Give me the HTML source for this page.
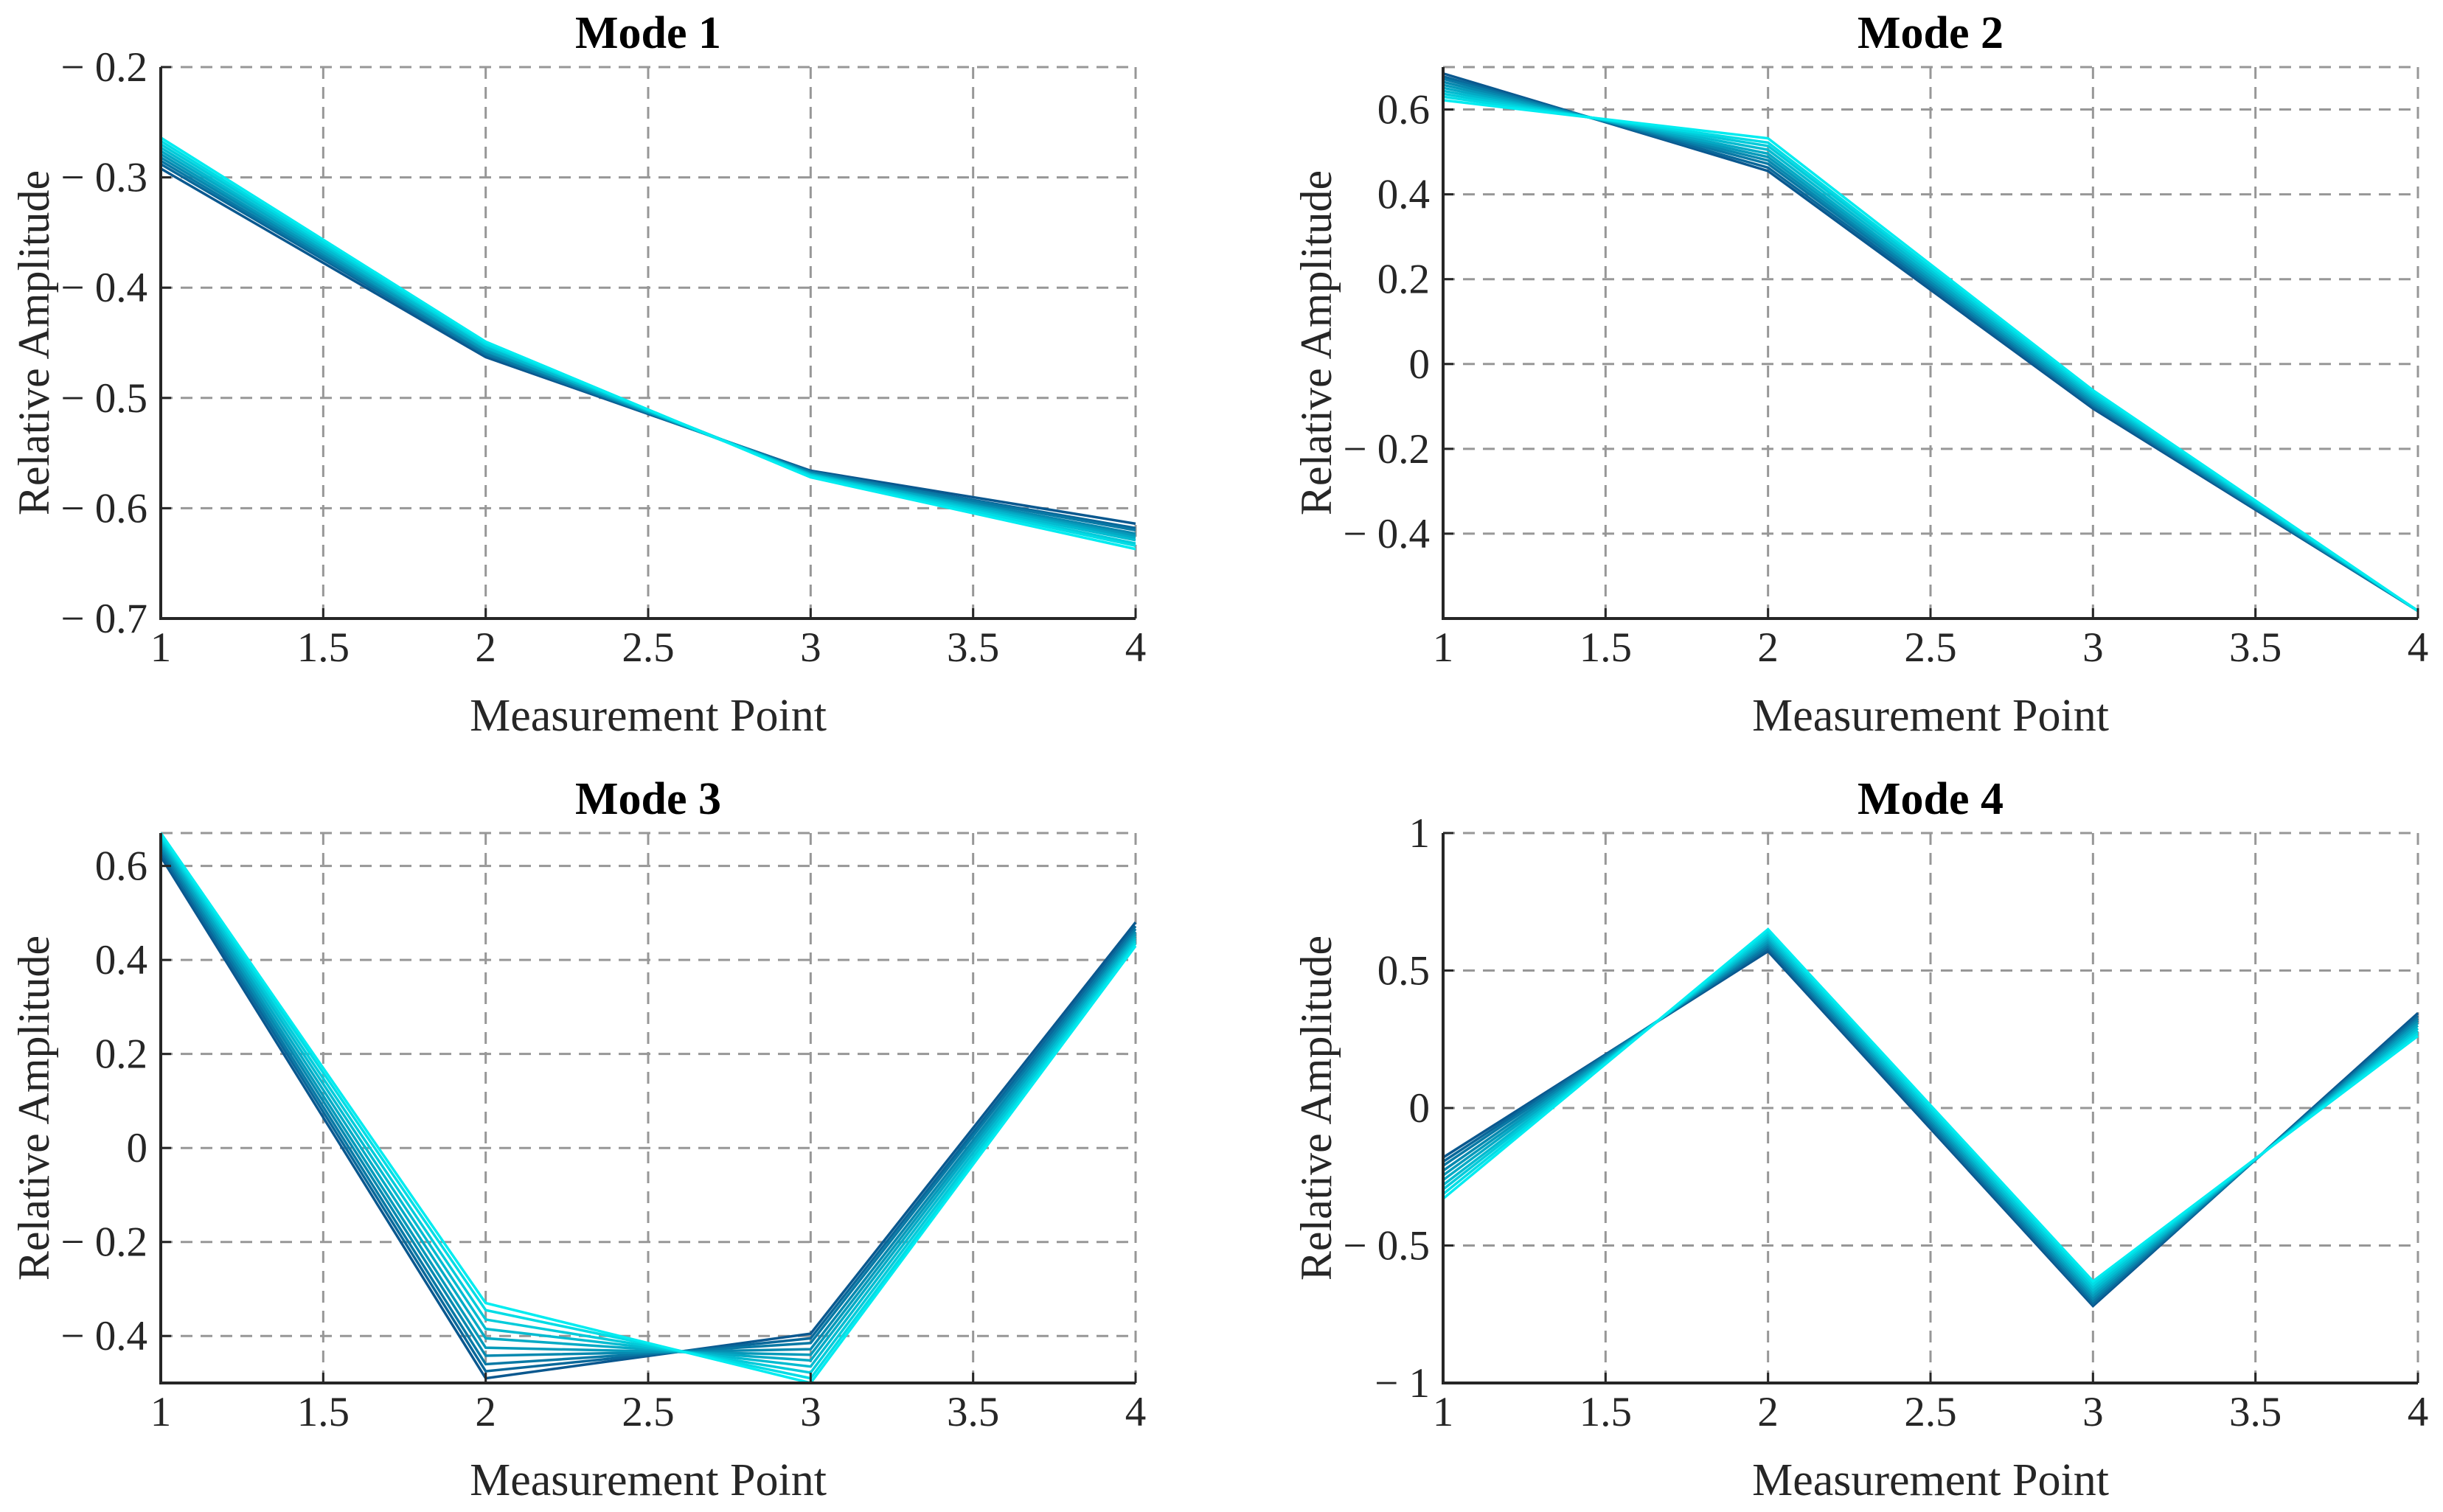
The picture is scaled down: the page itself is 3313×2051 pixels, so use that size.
<!DOCTYPE html>
<html><head><meta charset="utf-8"><style>
html,body{margin:0;padding:0;background:#fff;}
svg{display:block;font-family:"Liberation Serif",serif;}
</style></head><body>
<svg id="fig" width="3313" height="2051" viewBox="0 0 3313 2051" xmlns="http://www.w3.org/2000/svg"></svg>
<script>
const categories = [1, 2, 3, 4];
const xTicks = [1, 1.5, 2, 2.5, 3, 3.5, 4];
const xTickLabels = ["1","1.5","2","2.5","3","3.5","4"];
const titles = ["Mode 1","Mode 2","Mode 3","Mode 4"];
const yDomains = [[-0.7,-0.2],[-0.6,0.7],[-0.5,0.67],[-1,1]];
const yTicks1 = [-0.7,-0.6,-0.5,-0.4,-0.3,-0.2];
const yTicks2 = [-0.4,-0.2,0,0.2,0.4,0.6];
const yTicks3 = [-0.4,-0.2,0,0.2,0.4,0.6];
const yTicks4 = [-1,-0.5,0,0.5,1];
const yTickLabels1 = ["− 0.7","− 0.6","− 0.5","− 0.4","− 0.3","− 0.2"];
const yTickLabels2 = ["− 0.4","− 0.2","0","0.2","0.4","0.6"];
const yTickLabels3 = ["− 0.4","− 0.2","0","0.2","0.4","0.6"];
const yTickLabels4 = ["− 1","− 0.5","0","0.5","1"];
// series: dark (first) -> cyan (last)
const mode1Series = [
 [-0.292,-0.463,-0.566,-0.614],
 [-0.288,-0.461,-0.567,-0.618],
 [-0.285,-0.460,-0.567,-0.620],
 [-0.282,-0.458,-0.568,-0.623],
 [-0.279,-0.457,-0.569,-0.625],
 [-0.276,-0.455,-0.569,-0.627],
 [-0.273,-0.454,-0.570,-0.629],
 [-0.270,-0.452,-0.570,-0.632],
 [-0.267,-0.451,-0.571,-0.634],
 [-0.264,-0.449,-0.572,-0.637]];
const mode2Series = [
 [0.685,0.455,-0.105,-0.582],
 [0.678,0.463,-0.100,-0.582],
 [0.672,0.472,-0.096,-0.582],
 [0.665,0.480,-0.092,-0.582],
 [0.658,0.488,-0.087,-0.582],
 [0.651,0.496,-0.082,-0.582],
 [0.644,0.505,-0.077,-0.582],
 [0.637,0.514,-0.072,-0.582],
 [0.630,0.522,-0.067,-0.582],
 [0.622,0.532,-0.062,-0.582]];
const mode3Series = [
 [0.620,-0.490,-0.395,0.480],
 [0.628,-0.475,-0.405,0.472],
 [0.635,-0.460,-0.415,0.466],
 [0.641,-0.442,-0.428,0.460],
 [0.647,-0.425,-0.440,0.455],
 [0.652,-0.405,-0.452,0.450],
 [0.657,-0.385,-0.465,0.445],
 [0.661,-0.365,-0.478,0.440],
 [0.665,-0.345,-0.490,0.435],
 [0.670,-0.330,-0.500,0.430]];
const mode4Series = [
 [-0.180,0.570,-0.720,0.345],
 [-0.195,0.580,-0.712,0.335],
 [-0.210,0.588,-0.702,0.326],
 [-0.228,0.597,-0.693,0.318],
 [-0.245,0.605,-0.683,0.309],
 [-0.262,0.614,-0.673,0.300],
 [-0.280,0.622,-0.663,0.290],
 [-0.296,0.631,-0.652,0.281],
 [-0.313,0.640,-0.641,0.272],
 [-0.330,0.650,-0.630,0.262]];

const allSeries=[mode1Series,mode2Series,mode3Series,mode4Series];
const allYTicks=[yTicks1,yTicks2,yTicks3,yTicks4];
const allYLabels=[yTickLabels1,yTickLabels2,yTickLabels3,yTickLabels4];
const NS="http://www.w3.org/2000/svg";
const svg=document.getElementById('fig');
const panels=[{l:218,r:1540,t:91,b:839,ax:48},{l:1957,r:3279,t:91,b:839,ax:1787},{l:218,r:1540,t:1130,b:1876,ax:48},{l:1957,r:3279,t:1130,b:1876,ax:1787}];
function mk(tag,attrs,parent){const e=document.createElementNS(NS,tag);for(const k in attrs)e.setAttribute(k,attrs[k]);parent.appendChild(e);return e;}
function lerpColor(t){const a=[10,88,143],b=[0,236,240];return 'rgb('+a.map((v,i)=>Math.round(v+(b[i]-v)*t)).join(',')+')';}
panels.forEach((p,i)=>{
 const g=mk('g',{},svg);
 
 
 const [y0,y1]=yDomains[i];
 const xs=v=>p.l+(v-1)/3*(p.r-p.l);
 const ys=v=>p.b-(v-y0)/(y1-y0)*(p.b-p.t);
 const grid=mk('g',{stroke:'#979797','stroke-width':3,'stroke-dasharray':'16,11',fill:'none'},g);
 
 
 xTicks.forEach(v=>{if(v>1)mk('line',{x1:xs(v),x2:xs(v),y1:p.t,y2:p.b},grid);});
 allYTicks[i].forEach(v=>{const y=ys(v);if(y<p.b-1)mk('line',{x1:p.l,x2:p.r,y1:y,y2:y},grid);});
 mk('line',{x1:p.l,x2:p.r,y1:p.t,y2:p.t},grid);
 const lines=mk('g',{fill:'none','stroke-width':3.5,'stroke-linejoin':'miter'},g);
 const s=allSeries[i];
 s.forEach((arr,k)=>{
  const pl=mk('polyline',{points:arr.map((v,j)=>xs(categories[j])+','+ys(v)).join(' '),stroke:lerpColor(k/(s.length-1))},lines);
  
  
 });
 const ax=mk('path',{d:`M${p.l},${p.t} V${p.b} H${p.r}`,stroke:'#262626','stroke-width':4,fill:'none'},g);
 
 
 xTicks.forEach((v,j)=>{
  mk('line',{x1:xs(v),x2:xs(v),y1:p.b,y2:p.b-14,stroke:'#262626','stroke-width':3},g);
  const t=mk('text',{x:xs(v),y:p.b+58,'font-size':57,'text-anchor':'middle',fill:'#262626'},g);
  t.textContent=xTickLabels[j];
  
  
 });
 allYTicks[i].forEach((v,j)=>{
  mk('line',{x1:p.l,x2:p.l+14,y1:ys(v),y2:ys(v),stroke:'#262626','stroke-width':3},g);
  const t=mk('text',{x:p.l-18,y:ys(v)+19,'font-size':57,'text-anchor':'end',fill:'#262626'},g);
  t.textContent=allYLabels[i][j];
  
  
 });
 const tt=mk('text',{x:(p.l+p.r)/2,y:p.t-26,'font-size':62,'font-weight':'bold','text-anchor':'middle',fill:'#000'},g);
 tt.textContent=titles[i];
 
 
 const xl=mk('text',{x:(p.l+p.r)/2,y:p.b+152,'font-size':62,'text-anchor':'middle',fill:'#262626'},g);
 xl.textContent='Measurement Point';
 
 
 const cy=(p.t+p.b)/2;
 const yl=mk('text',{x:p.ax,y:cy,'font-size':60,'text-anchor':'middle',fill:'#262626',transform:`rotate(-90 ${p.ax} ${cy})`,dy:18},g);
 yl.textContent='Relative Amplitude';
 
 
});
</script>
</body></html>
